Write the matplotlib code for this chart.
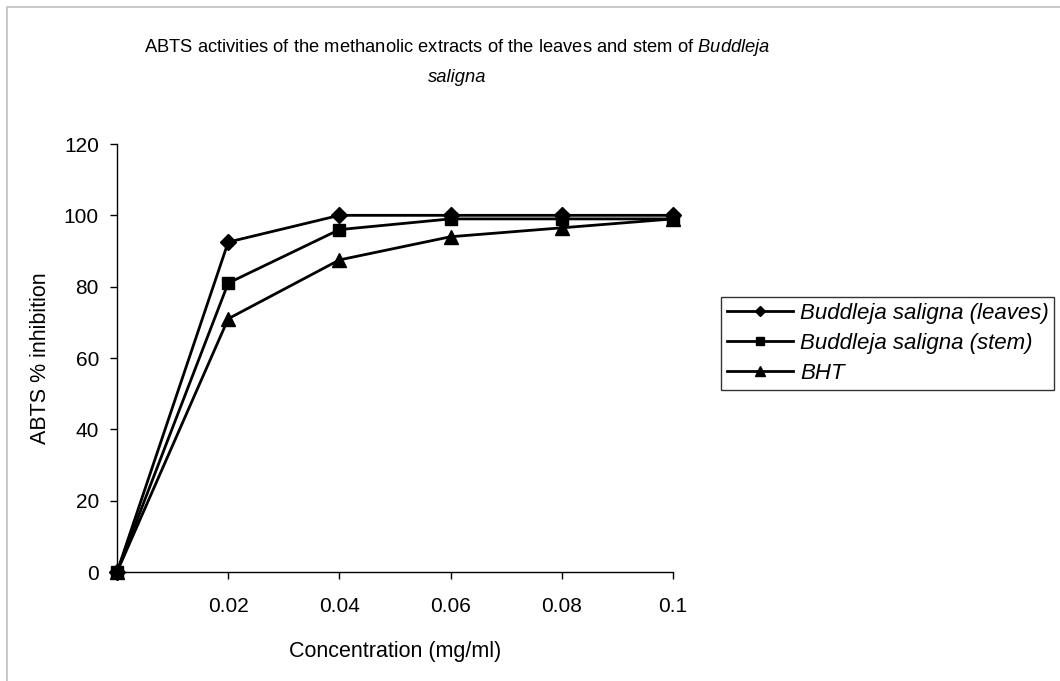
import matplotlib
matplotlib.use('Agg')
import matplotlib.pyplot as plt
from matplotlib.patches import Rectangle

plt.rcParams['font.family'] = ['Liberation Sans', 'DejaVu Sans']
plt.rcParams['mathtext.fontset'] = 'custom'
plt.rcParams['mathtext.rm'] = 'Liberation Sans'
plt.rcParams['mathtext.it'] = 'Liberation Sans:italic'

conc = [0.0, 0.02, 0.04, 0.06, 0.08, 0.1]
leaves = [0, 92.5, 100, 100, 100, 100]
stem = [0, 81, 96, 99, 99, 99]
bht = [0, 71, 87.5, 94, 96.5, 99]

xtick_vals = [0.02, 0.04, 0.06, 0.08, 0.1]
xtick_labels = ['0.02', '0.04', '0.06', '0.08', '0.1']
ytick_vals = [0, 20, 40, 60, 80, 100, 120]

fig = plt.figure(figsize=(10.6, 6.81), dpi=100)
# grey chart-area border (Excel style), cropped at right/bottom
fig.patches.append(Rectangle((7 / 1060, -0.1), 1.2, 1 - 7 / 681 + 0.1,
                             transform=fig.transFigure, fill=False,
                             edgecolor='#c0c0c0', linewidth=1.2))

ax = fig.add_axes([117 / 1060, 1 - 572 / 681, (673 - 117) / 1060, (572 - 144) / 681])

ax.plot(conc, leaves, color='black', lw=2, marker='D', ms=8, label='Buddleja saligna (leaves)')
ax.plot(conc, stem, color='black', lw=2, marker='s', ms=9, label='Buddleja saligna (stem)')
ax.plot(conc, bht, color='black', lw=2, marker='^', ms=10, label='BHT')

ax.set_xlim(0, 0.1)
ax.set_ylim(0, 120)
ax.set_xticks(xtick_vals)
ax.set_xticklabels(xtick_labels)
ax.set_yticks(ytick_vals)
ax.tick_params(direction='out', length=5, width=1, labelsize=15)
ax.tick_params(axis='x', pad=13)
ax.tick_params(axis='y', pad=8)
for s in ['top', 'right']:
    ax.spines[s].set_visible(False)
for s in ['left', 'bottom']:
    ax.spines[s].set_linewidth(1)
for l in ax.get_lines():
    l.set_clip_on(False)

ax.set_xlabel('Concentration (mg/ml)', fontsize=15.5, labelpad=18)
ax.set_ylabel('ABTS % inhibition', fontsize=15.5, labelpad=9)

fig.text(457 / 1060, 1 - 47 / 681, 'ABTS activities of the methanolic extracts of the leaves and stem of $\\it{Buddleja}$',
         ha='center', va='center', fontsize=13.2)
fig.text(457 / 1060, 1 - 77 / 681, 'saligna', style='italic', ha='center', va='center', fontsize=13.2)

leg = fig.legend(loc='upper left', bbox_to_anchor=(721 / 1060, 1 - 297 / 681),
                 prop={'style': 'italic', 'size': 16}, frameon=True, fancybox=False,
                 edgecolor='black', handlelength=3.0, handletextpad=0.3,
                 borderaxespad=0, labelspacing=0.42, markerscale=0.7, borderpad=0.25)
leg.get_frame().set_linewidth(1)

fig.savefig('out.png', dpi=100)
